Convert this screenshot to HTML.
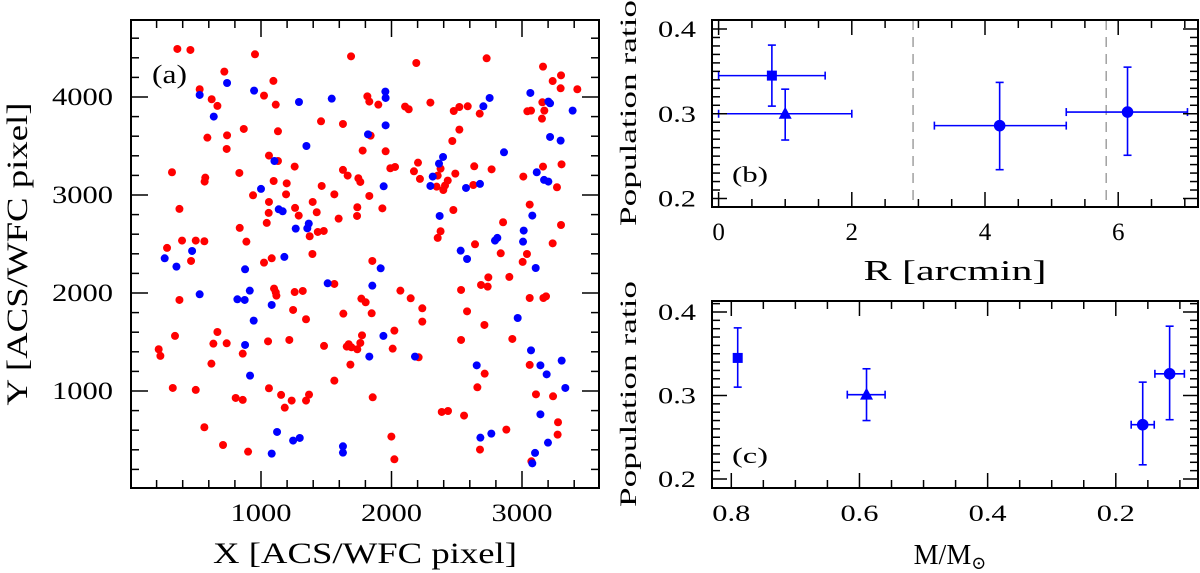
<!DOCTYPE html>
<html><head><meta charset="utf-8"><style>
html,body{margin:0;padding:0;background:#fff;}
svg{display:block;}
text{font-family:"Liberation Serif","DejaVu Serif",serif;fill:#000;}
</style></head><body>
<svg id="fig" xmlns="http://www.w3.org/2000/svg" width="1200" height="573" viewBox="0 0 1200 573"></svg>
<script>
// ---- Panel (a) data ----
const redX = [359,459,954,1690,2190,2729,3161,719,1095,3235,3299,530,1023,3296,3424,622,666,1113,1815,1830,1899,2104,2132,2298,2477,2520,2584,2676,3156,3041,3069,3171,3153,589,740,737,868,1130,1460,1628,1840,2520,2466,1779,1955,1061,1130,2376,2203,2172,2218,2634,2767,3161,3303,318,573,568,834,1258,1628,1664,1746,1761,1991,2027,3010,3268,2489,2431,2410,2397,2346,2627,2354,1097,1197,1192,939,1465,1562,1830,1061,1059,1044,1261,1289,1396,1427,1595,1738,1736,1930,2474,3059,2855,3299,3235,375,837,888,395,500,566,280,464,1023,1082,1373,1435,1481,1394,1853,2354,2376,2640,2837,3038,3005,
1562,2742,2686,2737,2903,2533,2068,2147,2236,2236,1769,1802,1848,1631,375,1100,1113,1118,1258,1320,1246,1345,2579,3059,3164,3184,2712,2926,2533,2022,2009,2208,1774,1761,1738,1672,1657,1693,1483,1217,1054,737,635,666,341,216,229,860,620,1685,1562,3059,2714,2658,3107,3238,3276,3273,3072,324,500,1061,1154,1235,1182,1368,1345,806,860,1856,2385,2433,2556,566,709,901,1999,2022,2880,2678];
const redY = [4490,4480,4436,4415,4347,4395,4310,4259,4164,4163,4221,4079,4014,4089,4079,3977,3909,3922,4007,3953,3922,3902,3875,3943,3857,3898,3905,3830,3946,3854,3861,3861,3779,3585,3609,3470,3674,3650,3752,3725,3606,3667,3551,3453,3446,3402,3347,3269,3330,3242,3164,3293,3262,3290,3313,3232,3177,3137,3225,3290,3256,3198,3171,3133,3273,3286,3188,3079,3218,3147,3096,3051,3085,3102,3198,3143,3119,3007,2997,3092,3007,2990,2929,2817,2715,2868,2790,2929,2824,2759,2875,2786,2864,2847,2902,2722,2694,2507,2858,2664,2524,2535,2535,2528,2460,2327,2310,2354,2579,2623,2633,2398,2327,2562,2630,2497,2405,2398,2317,
2092,2160,2082,2065,2164,2031,2024,1946,1844,1708,1942,1905,1793,1789,1929,2045,2007,1973,2010,2021,1827,1732,1813,1949,1949,1966,1674,1531,1521,1616,1432,1344,1568,1490,1426,1477,1453,1446,1460,1521,1507,1487,1483,1602,1562,1426,1358,1381,1279,1269,1106,1266,1177,1038,966,946,681,555,283,1031,1011,1028,960,902,830,963,902,929,909,936,786,796,749,630,449,381,535,303,606,402];
const blueX = [740,530,947,3064,638,1291,1542,1953,1955,2704,2752,3202,3215,3388,1955,1820,3215,3296,1348,1103,2395,2364,2862,3113,3169,3202,2316,2298,2571,2678,1000,1940,1136,1166,2369,3079,3013,3008,472,262,1179,1266,1355,1366,2530,2579,2793,2811,
352,878,1917,3105,1511,1853,530,819,875,914,1082,944,2967,1938,1830,2180,878,916,3069,3141,3189,3304,2653,3332,3141,3199,3100,3079,1082,1123,1246,1297,1628,1628,2681,2765];
const blueY = [4143,4021,4065,4041,3800,3949,3983,4055,3990,3905,3990,3953,3936,3861,3711,3619,3592,3555,3500,3347,3388,3320,3436,3232,3154,3137,3188,3092,3072,3113,3062,3089,2854,2834,2786,2790,2637,2524,2429,2354,2368,2657,2660,2708,2432,2347,2535,2562,
2269,2242,2252,2255,2099,2075,1987,1936,1929,2024,1878,1718,1745,1562,1351,1351,1470,1157,1415,1262,1170,1310,1262,1031,762,473,368,262,361,582,494,521,436,371,524,565];
const aXTicks = [1000,2000,3000];
const aYTicks = [1000,2000,3000,4000];
// ---- Panel (b) data ----
const bR     = [0.80, 1.00, 4.22, 6.14];
const bRlo   = [0.00, 0.00, 3.24, 5.22];
const bRhi   = [1.60, 2.00, 5.22, 7.04];
const bRatio = [0.345, 0.300, 0.286, 0.302];
const bLo    = [0.309, 0.269, 0.234, 0.251];
const bHi    = [0.381, 0.329, 0.337, 0.355];
const bShape = ['square','triangle','circle','circle'];
const bDash  = [2.92, 5.82];
const bXTicks = [0,2,4,6];
// ---- Panel (c) data ----
const cM     = [0.790, 0.589, 0.158, 0.116];
const cMlo   = [null, 0.619, 0.176, 0.139];
const cMhi   = [null, 0.560, 0.140, 0.093];
const cRatio = [0.345, 0.301, 0.265, 0.326];
const cLo    = [0.310, 0.270, 0.217, 0.271];
const cHi    = [0.381, 0.332, 0.316, 0.383];
const cShape = ['square','triangle','circle','circle'];
const cXTicks = [0.8,0.6,0.4,0.2];
const yTicksBC = [0.2,0.3,0.4];

const NS='http://www.w3.org/2000/svg';
const svg=document.getElementById('fig');
function mk(tag,attrs,parent){const e=document.createElementNS(NS,tag);for(const k in attrs)e.setAttribute(k,attrs[k]);(parent||svg).appendChild(e);return e;}
function lin(d0,d1,p0,p1){return v=>p0+(v-d0)*(p1-p0)/(d1-d0);}

function axesBox(g,L,R,T,B,sx,sy,xMinorStep,xMajorStep,yMinorStep,yMajorStep,xr,yr,majLen,minLen){
  mk('rect',{x:L,y:T,width:R-L,height:B-T,fill:'none',stroke:'#000','stroke-width':2},g);
  const eps=1e-9;
  const xs=Math.ceil(Math.min(xr[0],xr[1])/xMinorStep-eps);
  const xe=Math.floor(Math.max(xr[0],xr[1])/xMinorStep+eps);
  for(let i=xs;i<=xe;i++){const v=i*xMinorStep;const px=sx(v);if(px<L+1||px>R-1)continue;
    const maj=Math.abs(v/xMajorStep-Math.round(v/xMajorStep))<1e-6;const len=maj?majLen:minLen;
    mk('line',{x1:px,y1:B,x2:px,y2:B-len,stroke:'#000','stroke-width':1.5},g);
    mk('line',{x1:px,y1:T,x2:px,y2:T+len,stroke:'#000','stroke-width':1.5},g);}
  const ys=Math.ceil(Math.min(yr[0],yr[1])/yMinorStep-eps);
  const ye=Math.floor(Math.max(yr[0],yr[1])/yMinorStep+eps);
  for(let i=ys;i<=ye;i++){const v=i*yMinorStep;const py=sy(v);if(py<T+1||py>B-1)continue;
    const maj=Math.abs(v/yMajorStep-Math.round(v/yMajorStep))<1e-6;const len=maj?majLen:minLen;
    mk('line',{x1:L,y1:py,x2:L+len,y2:py,stroke:'#000','stroke-width':1.5},g);
    mk('line',{x1:R,y1:py,x2:R-len,y2:py,stroke:'#000','stroke-width':1.5},g);}
}

// ===== Panel (a) =====
const gA=mk('g',{});


const aL=131,aR=599,aT=20,aB=488;
const axX=lin(0,1000,130.5,261);
const axY=lin(0,1000,489,391);
const gAPts=mk('g',{},gA);


for(let i=0;i<redX.length;i++){
  const c=mk('circle',{cx:axX(redX[i]),cy:axY(redY[i]),r:4,fill:'#ff0000'},gAPts);
  
  
}
const gBPts=mk('g',{},gA);


for(let i=0;i<blueX.length;i++){
  const c=mk('circle',{cx:axX(blueX[i]),cy:axY(blueY[i]),r:4,fill:'#0000ff'},gBPts);
  
  
}
axesBox(gA,aL,aR,aT,aB,axX,axY,200,1000,200,1000,[0,3586],[0,4786],17,8);
aXTicks.forEach(v=>{const t=mk('text',{x:axX(v),y:521,'font-size':25,'text-anchor':'middle',textLength:61,lengthAdjust:'spacingAndGlyphs'},gA);t.textContent=v;
  });
aYTicks.forEach(v=>{const t=mk('text',{x:113,y:axY(v)+8,'font-size':25,'text-anchor':'end',textLength:61,lengthAdjust:'spacingAndGlyphs'},gA);t.textContent=v;
  });
let t=mk('text',{x:365,y:563,'font-size':30,'text-anchor':'middle',textLength:304,lengthAdjust:'spacingAndGlyphs'},gA);t.textContent='X [ACS/WFC pixel]';

t=mk('text',{x:0,y:0,'font-size':30,'text-anchor':'middle',textLength:303,lengthAdjust:'spacingAndGlyphs',transform:'translate(27,254) rotate(-90)'},gA);t.textContent='Y [ACS/WFC pixel]';

t=mk('text',{x:152,y:83,'font-size':26,textLength:35,lengthAdjust:'spacingAndGlyphs'},gA);t.textContent='(a)';


// ===== shared marker drawing =====
function marker(g,shape,x,y){
  let m;
  if(shape==='square') m=mk('rect',{x:x-5,y:y-5,width:10,height:10,fill:'#0000ff'},g);
  else if(shape==='triangle') m=mk('polygon',{points:`${x},${y-7} ${x-6.5},${y+5} ${x+6.5},${y+5}`,fill:'#0000ff'},g);
  else m=mk('circle',{cx:x,cy:y,r:5.8,fill:'#0000ff'},g);
  return m;
}
function errbar(g,x1,y1,x2,y2,vertical){
  mk('line',{x1:x1,y1:y1,x2:x2,y2:y2,stroke:'#0000ff','stroke-width':1.6},g);
  const c=4;
  if(vertical){[y1,y2].forEach(yy=>mk('line',{x1:x1-c,y1:yy,x2:x1+c,y2:yy,stroke:'#0000ff','stroke-width':1.6},g));}
  else{[x1,x2].forEach(xx=>mk('line',{x1:xx,y1:y1-c,x2:xx,y2:y1+c,stroke:'#0000ff','stroke-width':1.6},g));}
}

// ===== Panel (b) =====
const gB=mk('g',{});


const bL=712,bRr=1198,bT=20,bB=207;
const bx=lin(0,2,718.6,851.8);
const by=lin(0.2,0.4,198.5,29);
bDash.forEach(v=>{const l=mk('line',{x1:bx(v),y1:bT,x2:bx(v),y2:bB,stroke:'#a0a0a0','stroke-width':1.5,'stroke-dasharray':'10 7'},gB);
  });
for(let i=0;i<bR.length;i++){
  const g=mk('g',{},gB);
  
  
  errbar(g,bx(bRlo[i]),by(bRatio[i]),bx(bRhi[i]),by(bRatio[i]),false);
  errbar(g,bx(bR[i]),by(bLo[i]),bx(bR[i]),by(bHi[i]),true);
  marker(g,bShape[i],bx(bR[i]),by(bRatio[i]));
}
axesBox(gB,bL,bRr,bT,bB,bx,by,0.5,2,0.01,0.1,[-0.1,7.2],[0.188,0.41],15,8);
bXTicks.forEach(v=>{const t=mk('text',{x:bx(v),y:240,'font-size':25,'text-anchor':'middle'},gB);t.textContent=v;
  });
yTicksBC.forEach(v=>{const t=mk('text',{x:696,y:by(v)+8,'font-size':23,'text-anchor':'end',textLength:38,lengthAdjust:'spacingAndGlyphs'},gB);t.textContent=v.toFixed(1);
  });
t=mk('text',{x:955,y:280,'font-size':28,'text-anchor':'middle',textLength:183,lengthAdjust:'spacingAndGlyphs'},gB);t.textContent='R [arcmin]';

t=mk('text',{x:0,y:0,'font-size':23,'text-anchor':'middle',textLength:226,lengthAdjust:'spacingAndGlyphs',transform:'translate(636,113) rotate(-90)'},gB);t.textContent='Population ratio';

t=mk('text',{x:732,y:182,'font-size':22,textLength:36,lengthAdjust:'spacingAndGlyphs'},gB);t.textContent='(b)';


// ===== Panel (c) =====
const gC=mk('g',{});


const cL=712,cR=1198,cT=301,cB=488;
const cx=lin(0.8,0.2,731.3,1115.8);
const cy=lin(0.2,0.4,479,312);
for(let i=0;i<cM.length;i++){
  const g=mk('g',{},gC);
  
  
  if(cMlo[i]!==null) errbar(g,cx(cMlo[i]),cy(cRatio[i]),cx(cMhi[i]),cy(cRatio[i]),false);
  errbar(g,cx(cM[i]),cy(cLo[i]),cx(cM[i]),cy(cHi[i]),true);
  marker(g,cShape[i],cx(cM[i]),cy(cRatio[i]));
}
axesBox(gC,cL,cR,cT,cB,cx,cy,0.05,0.2,0.01,0.1,[0.83,0.07],[0.189,0.413],15,8);
cXTicks.forEach(v=>{const t=mk('text',{x:cx(v),y:521,'font-size':23,'text-anchor':'middle',textLength:38,lengthAdjust:'spacingAndGlyphs'},gC);t.textContent=v.toFixed(1);
  });
yTicksBC.forEach(v=>{const t=mk('text',{x:696,y:cy(v)+8,'font-size':23,'text-anchor':'end',textLength:38,lengthAdjust:'spacingAndGlyphs'},gC);t.textContent=v.toFixed(1);
  });
t=mk('text',{x:950,y:564,'font-size':28,'text-anchor':'middle'},gC);

const ts1=mk('tspan',{},t);ts1.textContent='M/M';
const ts2=mk('tspan',{'font-size':18,dy:5},t);ts2.textContent='\u2299';
t=mk('text',{x:0,y:0,'font-size':23,'text-anchor':'middle',textLength:226,lengthAdjust:'spacingAndGlyphs',transform:'translate(636,394) rotate(-90)'},gC);t.textContent='Population ratio';

t=mk('text',{x:732,y:463,'font-size':22,textLength:36,lengthAdjust:'spacingAndGlyphs'},gC);t.textContent='(c)';

</script>
</body></html>
